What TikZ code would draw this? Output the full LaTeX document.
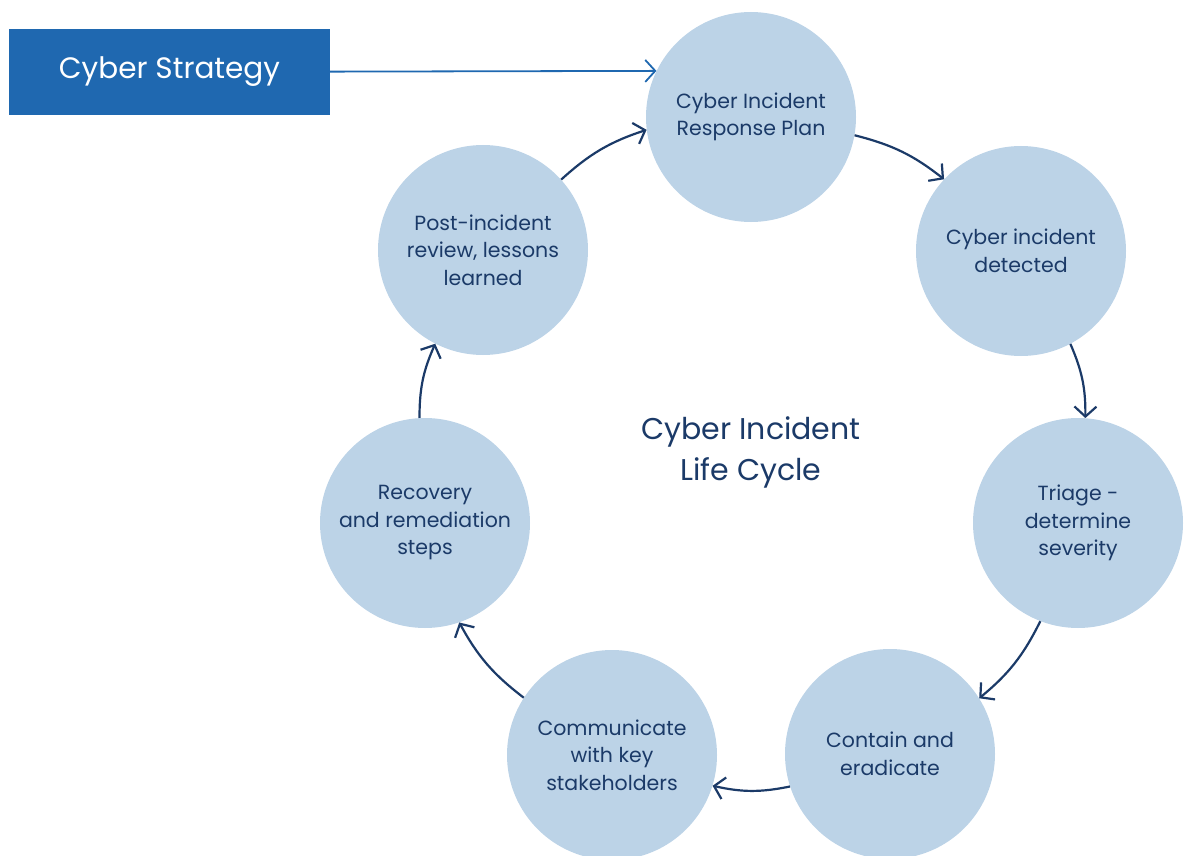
\documentclass[tikz,border=0pt]{standalone}
\usepackage{fontspec}
\setmainfont{Poppins}
\usetikzlibrary{arrows.meta}
\definecolor{ringfill}{HTML}{BCD3E7}
\definecolor{navy}{HTML}{1B3A68}
\definecolor{boxblue}{HTML}{1F68B0}
\begin{document}
\begin{tikzpicture}[x=1pt,y=1pt,
  main/.style={circle,fill=ringfill,minimum size=210pt,inner sep=0pt,align=center,text=navy,font=\fontsize{20.5}{27.5}\selectfont},
  flow/.style={-{Straight Barb[length=10pt,width=22pt]},draw=navy,line width=2.2pt},
  strat/.style={fill=boxblue,text=white,minimum width=321pt,minimum height=86pt,font=\fontsize{29.5}{34}\selectfont}]
  \useasboundingbox (0,0) rectangle (1184,-856);
  \node[main](plan) at (751,-117) {Cyber Incident\\Response Plan};
  \node[main](det) at (1021,-251) {Cyber incident\\detected};
  \node[main](tri) at (1078,-523) {Triage -\\determine\\severity};
  \node[main](con) at (890,-754) {Contain and\\eradicate};
  \node[main](com) at (612,-755) {Communicate\\with key\\stakeholders};
  \node[main](rec) at (425,-523) {Recovery\\and remediation\\steps};
  \node[main](post) at (483,-250) {Post-incident\\review, lessons\\learned};
  \node[align=center,text=navy,font=\fontsize{30}{41}\selectfont](life) at (751,-452) {Cyber Incident\\Life Cycle};
  \node[strat](cs) at (169.5,-72) {Cyber Strategy};
  \draw[-{Straight Barb[length=10pt,width=22pt]},draw=boxblue,line width=1.8pt](cs) -- (plan.154.6);
  \draw[flow](plan.-10) to[bend left=12] (det.137);
  \draw[flow](det.-62) to[bend left=12] (tri.86);
  \draw[flow](tri.-111) to[bend left=12] (con.32);
  \draw[flow](con.-162) to[bend left=12] (com.-17);
  \draw[flow](com.147) to[bend left=12] (rec.-71);
  \draw[flow](rec.93) to[bend left=12] (post.-117);
  \draw[flow](post.42) to[bend left=12] (plan.187);
\end{tikzpicture}
\end{document}
